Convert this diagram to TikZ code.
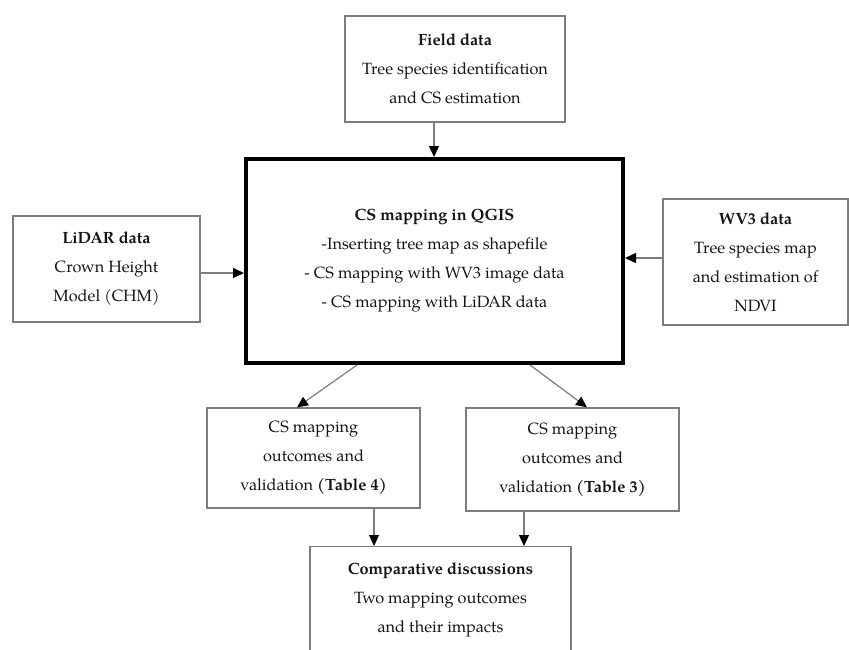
\documentclass[tikz,border=0pt]{standalone}
\usepackage{fontspec}
\setmainfont{texgyrepagella}[Extension=.otf,UprightFont=*-regular,BoldFont=*-bold]
\usetikzlibrary{arrows.meta}

\definecolor{rimgrey}{HTML}{7C7C7C}
\definecolor{inkgrey}{HTML}{141414}

\tikzset{
  databox/.style={draw=rimgrey,line width=1.3pt,align=center,inner sep=0pt,
    text=inkgrey,font=\fontsize{16.3}{29}\selectfont},
  mainbox/.style={databox,draw=black,line width=4pt},
  flow/.style={draw=rimgrey,line width=1.2pt,
    -{Triangle[length=11pt,width=10pt,color=black]}}
}

\begin{document}
\begin{tikzpicture}[x=1pt,y=-1pt]
    \useasboundingbox (0,0) rectangle (849,649);

    % inputs
    \node[databox,minimum width=220pt,minimum height=106pt] (field) at (455,69)
      {\textbf{Field data}\\Tree species identification\\and CS estimation};
    \node[databox,minimum width=187pt,minimum height=106pt] (lidar) at (106.5,269)
      {\textbf{LiDAR data}\\Crown Height\\Model (CHM)};
    \node[databox,minimum width=185pt,minimum height=126pt] (wv3) at (755.5,262)
      {\textbf{WV3 data}\\Tree species map\\and estimation of\\NDVI};

    % central step
    \node[mainbox,minimum width=377pt,minimum height=204pt] (main) at (434.5,261)
      {\textbf{CS mapping in QGIS}\\-Inserting tree map as shapefile\\
       - CS mapping with WV3 image data\\- CS mapping with LiDAR data};

    % outcomes
    \node[databox,minimum width=213pt,minimum height=100pt] (out4) at (313.5,458)
      {CS mapping\\outcomes and\\validation \textbf{(Table 4)}};
    \node[databox,minimum width=213pt,minimum height=103pt] (out3) at (572.5,459.5)
      {CS mapping\\outcomes and\\validation \textbf{(Table 3)}};
    \node[databox,minimum width=261pt,minimum height=130pt,anchor=north] (comp) at (440.5,546)
      {\textbf{Comparative discussions}\\Two mapping outcomes\\and their impacts\\\mbox{}};

    % arrows
    \draw[flow] ([xshift=-21pt]field.south) -- ([xshift=-21pt]field.south |- main.north);
    \draw[flow] ([yshift=-4pt]lidar.east) -- ([yshift=-4pt]lidar.east -| main.west);
    \draw[flow] ([yshift=4pt]wv3.west) -- ([yshift=4pt]wv3.west -| main.east);
    \draw[flow] ([xshift=-77.5pt]main.south) -- ([xshift=-16.5pt]out4.north);
    \draw[flow] ([xshift=95.5pt]main.south) -- ([xshift=14.5pt]out3.north);
    \draw[flow] ([xshift=60.5pt]out4.south) -- ([xshift=60.5pt]out4.south |- comp.north);
    \draw[flow] ([xshift=-48.5pt]out3.south) -- ([xshift=-48.5pt]out3.south |- comp.north);
\end{tikzpicture}
\end{document}
